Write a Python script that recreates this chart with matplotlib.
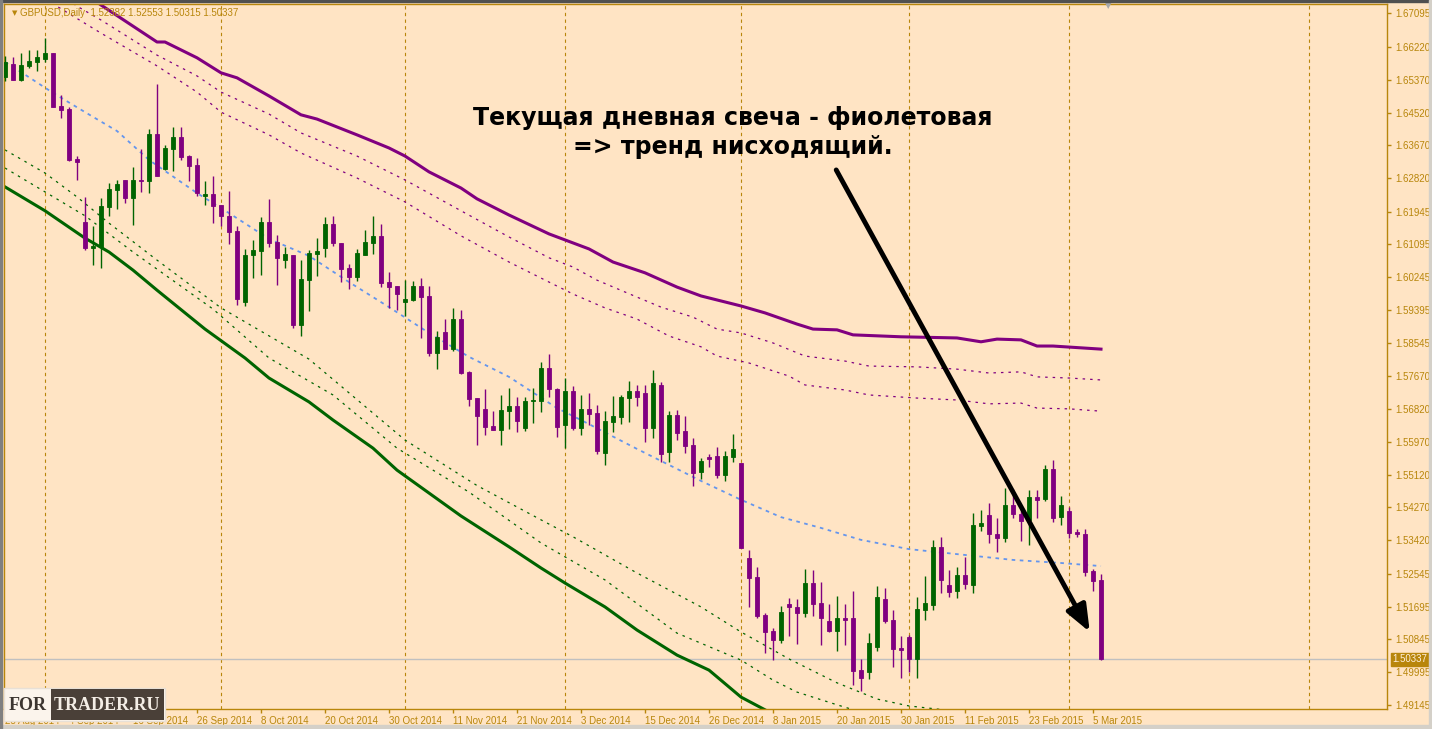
import matplotlib
matplotlib.use("Agg")
import matplotlib.pyplot as plt
from matplotlib.patches import Rectangle

BG = '#FFE4C4'
FG = '#B8860B'
BULL = '#006400'
BEAR = '#800080'
MA_COLOR = '#6495ED'

# daily candles, GBPUSD, 25 Aug 2014 .. 6 Mar 2015 (bar index 0..137)
opens = [1.6545, 1.6578, 1.6536, 1.6574, 1.6584, 1.6591, 1.6607, 1.6469, 1.6462, 1.6331,
         1.6168, 1.6101, 1.6104, 1.6208, 1.6252, 1.6277, 1.6231, 1.6277, 1.6273, 1.6396,
         1.6305, 1.6358, 1.6389, 1.6339, 1.6316, 1.6235, 1.6241, 1.6212, 1.6184, 1.6145,
         1.5959, 1.6081, 1.6093, 1.6168, 1.6116, 1.6070, 1.6082, 1.5901, 1.6018, 1.6086,
         1.6101, 1.6163, 1.6113, 1.6048, 1.6026, 1.6083, 1.6114, 1.6132, 1.6012, 1.6001,
         1.5959, 1.5966, 1.6002, 1.5976, 1.5829, 1.5882, 1.5839, 1.5916, 1.5778, 1.5711,
         1.5683, 1.5639, 1.5629, 1.5678, 1.5690, 1.5634, 1.5704, 1.5704, 1.5789, 1.5735,
         1.5642, 1.5729, 1.5634, 1.5683, 1.5672, 1.5569, 1.5650, 1.5663, 1.5712, 1.5729,
         1.5724, 1.5634, 1.5745, 1.5572, 1.5667, 1.5626, 1.5589, 1.5520, 1.5558, 1.5561,
         1.5512, 1.5559, 1.5543, 1.5296, 1.5247, 1.5148, 1.5107, 1.5084, 1.5177, 1.5169,
         1.5154, 1.5231, 1.5179, 1.5133, 1.5107, 1.5140, 1.5140, 1.5005, 1.5001, 1.5066,
         1.5190, 1.5135, 1.5063, 1.5091, 1.5034, 1.5162, 1.5174, 1.5325, 1.5226, 1.5211,
         1.5252, 1.5227, 1.5380, 1.5408, 1.5358, 1.5349, 1.5434, 1.5410, 1.5395, 1.5454,
         1.5449, 1.5527, 1.5403, 1.5418, 1.5364, 1.5358, 1.5262, 1.52382]
highs = [1.6599, 1.6595, 1.6606, 1.6614, 1.6614, 1.6645, 1.6607, 1.6498, 1.6466, 1.6339,
         1.6234, 1.6158, 1.6229, 1.6268, 1.6277, 1.6277, 1.6311, 1.6358, 1.6409, 1.6526,
         1.6368, 1.6414, 1.6414, 1.6342, 1.6334, 1.6274, 1.6287, 1.6212, 1.6249, 1.6157,
         1.6098, 1.6121, 1.6180, 1.6228, 1.6134, 1.6102, 1.6082, 1.6069, 1.6095, 1.6126,
         1.6180, 1.6184, 1.6113, 1.6059, 1.6099, 1.6146, 1.6184, 1.6163, 1.6038, 1.6001,
         1.6017, 1.6016, 1.6022, 1.6002, 1.5885, 1.5917, 1.5946, 1.5940, 1.5781, 1.5711,
         1.5735, 1.5678, 1.5720, 1.5737, 1.5715, 1.5715, 1.5737, 1.5805, 1.5825, 1.5736,
         1.5763, 1.5742, 1.5719, 1.5725, 1.5692, 1.5677, 1.5716, 1.5719, 1.5755, 1.5745,
         1.5745, 1.5784, 1.5753, 1.5677, 1.5680, 1.5664, 1.5607, 1.5556, 1.5566, 1.5584,
         1.5574, 1.5618, 1.5543, 1.5317, 1.5273, 1.5153, 1.5114, 1.5171, 1.5193, 1.5190,
         1.5267, 1.5265, 1.5234, 1.5177, 1.5198, 1.5177, 1.5210, 1.5034, 1.5102, 1.5222,
         1.5219, 1.5161, 1.5094, 1.5096, 1.5195, 1.5249, 1.5343, 1.5351, 1.5265, 1.5273,
         1.5299, 1.5413, 1.5421, 1.5439, 1.5400, 1.5478, 1.5475, 1.5434, 1.5472, 1.5472,
         1.5537, 1.5550, 1.5457, 1.5428, 1.5371, 1.5371, 1.5267, 1.52553]
lows = [1.6535, 1.6537, 1.6535, 1.6567, 1.6561, 1.6584, 1.6467, 1.6439, 1.6327, 1.6278,
        1.6095, 1.6056, 1.6049, 1.6184, 1.6202, 1.6217, 1.6161, 1.6246, 1.6243, 1.6286,
        1.6302, 1.6301, 1.6328, 1.6275, 1.6236, 1.6213, 1.6164, 1.6158, 1.6112, 1.5952,
        1.5951, 1.6023, 1.6031, 1.6104, 1.6004, 1.6049, 1.5894, 1.5873, 1.5938, 1.6029,
        1.6078, 1.6106, 1.6011, 1.5993, 1.6016, 1.6081, 1.6086, 1.6000, 1.5946, 1.5940,
        1.5924, 1.5964, 1.5868, 1.5821, 1.5787, 1.5839, 1.5832, 1.5774, 1.5691, 1.5589,
        1.5616, 1.5628, 1.5589, 1.5632, 1.5624, 1.5626, 1.5647, 1.5676, 1.5715, 1.5611,
        1.5581, 1.5628, 1.5615, 1.5641, 1.5567, 1.5538, 1.5624, 1.5644, 1.5650, 1.5691,
        1.5598, 1.5608, 1.5546, 1.5546, 1.5603, 1.5569, 1.5484, 1.5502, 1.5533, 1.5504,
        1.5497, 1.5546, 1.5323, 1.5170, 1.5139, 1.5050, 1.5030, 1.5076, 1.5094, 1.5074,
        1.5142, 1.5146, 1.5070, 1.5104, 1.5055, 1.5070, 1.4966, 1.4951, 1.4982, 1.5055,
        1.5128, 1.5014, 1.4985, 1.5000, 1.4985, 1.5135, 1.5161, 1.5206, 1.5195, 1.5193,
        1.5216, 1.5206, 1.5366, 1.5336, 1.5312, 1.5338, 1.5400, 1.5341, 1.5330, 1.5400,
        1.5444, 1.5390, 1.5382, 1.5349, 1.5351, 1.5248, 1.5211, 1.50315]
closes = [1.6582, 1.6537, 1.6575, 1.6586, 1.6596, 1.6607, 1.6467, 1.6459, 1.6330, 1.6324,
          1.6101, 1.6106, 1.6209, 1.6254, 1.6267, 1.6231, 1.6277, 1.6273, 1.6396, 1.6286,
          1.6360, 1.6389, 1.6337, 1.6314, 1.6244, 1.6241, 1.6210, 1.6184, 1.6143, 1.5969,
          1.6082, 1.6095, 1.6168, 1.6114, 1.6075, 1.6085, 1.5901, 1.6020, 1.6088, 1.6093,
          1.6163, 1.6113, 1.6046, 1.6026, 1.6088, 1.6116, 1.6132, 1.6010, 1.6000, 1.5982,
          1.5968, 1.6002, 1.5974, 1.5829, 1.5869, 1.5839, 1.5916, 1.5777, 1.5709, 1.5665,
          1.5637, 1.5629, 1.5680, 1.5690, 1.5652, 1.5704, 1.5706, 1.5789, 1.5734, 1.5637,
          1.5729, 1.5634, 1.5683, 1.5670, 1.5574, 1.5651, 1.5664, 1.5714, 1.5729, 1.5715,
          1.5634, 1.5750, 1.5567, 1.5667, 1.5621, 1.5587, 1.5517, 1.5548, 1.5554, 1.5512,
          1.5561, 1.5579, 1.5323, 1.5245, 1.5146, 1.5105, 1.5084, 1.5156, 1.5168, 1.5154,
          1.5231, 1.5177, 1.5141, 1.5107, 1.5140, 1.5136, 1.5004, 1.4985, 1.5076, 1.5195,
          1.5133, 1.5061, 1.5058, 1.5034, 1.5164, 1.5179, 1.5325, 1.5239, 1.5209, 1.5252,
          1.5229, 1.5382, 1.5387, 1.5359, 1.5348, 1.5434, 1.5411, 1.5392, 1.5454, 1.5447,
          1.5527, 1.5401, 1.5434, 1.5362, 1.5357, 1.5260, 1.5237, 1.50337]

# indicator lines, read at a few bars
upper_band_idx = [5, 12, 19, 20, 24, 27, 29, 33, 37, 39, 44, 48, 50, 53, 57, 59, 63, 68, 73, 76,
                  80, 84, 87, 92, 95, 99, 101, 104, 106, 112, 119, 122, 124, 127, 129, 131, 137]
upper_band = [1.6835, 1.6731, 1.6635, 1.6635, 1.6594, 1.6555, 1.6542, 1.6495, 1.6446, 1.6435,
              1.6394, 1.6360, 1.6339, 1.6298, 1.6256, 1.6228, 1.6186, 1.6137, 1.6098, 1.6064,
              1.6036, 1.5999, 1.5976, 1.5950, 1.5932, 1.5903, 1.5890, 1.5888, 1.5875, 1.5870,
              1.5867, 1.5857, 1.5864, 1.5862, 1.5846, 1.5846, 1.5838]
upper_dash1_idx = [5, 9, 12, 19, 24, 27, 33, 37, 44, 50, 57, 63, 68, 71, 74, 79, 82, 86, 89, 92,
                   96, 100, 105, 108, 114, 119, 123, 127, 129, 133, 137]
upper_dash1 = [1.6790, 1.6728, 1.6692, 1.6601, 1.6547, 1.6505, 1.6448, 1.6399, 1.6339, 1.6277,
               1.6197, 1.6129, 1.6075, 1.6051, 1.6017, 1.5973, 1.5947, 1.5921, 1.5890, 1.5880,
               1.5854, 1.5820, 1.5807, 1.5794, 1.5792, 1.5786, 1.5776, 1.5779, 1.5766, 1.5763,
               1.5758]
upper_dash2_idx = [3, 6, 12, 19, 24, 27, 33, 37, 44, 50, 57, 63, 68, 71, 75, 79, 83, 87, 89, 93,
                   98, 100, 105, 108, 114, 119, 123, 127, 129, 133, 137]
upper_dash2 = [1.6775, 1.6734, 1.6658, 1.6573, 1.6505, 1.6453, 1.6394, 1.6347, 1.6282, 1.6220,
               1.6132, 1.6064, 1.6012, 1.5981, 1.5945, 1.5916, 1.5872, 1.5844, 1.5820, 1.5802,
               1.5768, 1.5745, 1.5732, 1.5719, 1.5711, 1.5706, 1.5696, 1.5698, 1.5685, 1.5683,
               1.5677]
ma_idx = [0, 2, 6, 10, 14, 18, 24, 28, 33, 38, 43, 48, 53, 58, 63, 69, 72, 79, 87, 92,
          97, 102, 107, 113, 119, 126, 132, 137]
ma = [1.6583, 1.6557, 1.6503, 1.6453, 1.6404, 1.6329, 1.6243, 1.6191, 1.6124, 1.6080,
      1.6012, 1.5947, 1.5880, 1.5818, 1.5766, 1.5685, 1.5654, 1.5579, 1.5496, 1.5447,
      1.5402, 1.5374, 1.5343, 1.5319, 1.5306, 1.5291, 1.5283, 1.5275]
lower_dash1_idx = [0, 5, 9, 13, 19, 27, 38, 50, 59, 67, 71, 79, 87, 92, 98, 104, 109, 113, 120]
lower_dash1 = [1.6355, 1.6295, 1.6233, 1.6165, 1.6069, 1.5945, 1.5812, 1.5602, 1.5484, 1.5395,
               1.5351, 1.5257, 1.5169, 1.5104, 1.5034, 1.4972, 1.4930, 1.4912, 1.4896]
lower_dash2_idx = [0, 5, 10, 16, 26, 33, 41, 49, 58, 67, 75, 84, 92, 96, 99, 104, 107]
lower_dash2 = [1.6308, 1.6246, 1.6184, 1.6090, 1.5942, 1.5815, 1.5719, 1.5581, 1.5467, 1.5335,
               1.5239, 1.5101, 1.5031, 1.4979, 1.4948, 1.4915, 1.4896]
lower_band_idx = [0, 5, 10, 13, 16, 19, 25, 30, 33, 38, 41, 46, 49, 57, 63, 67, 70, 75, 79, 84,
                  88, 92, 96]
lower_band = [1.6259, 1.6197, 1.6126, 1.6090, 1.6043, 1.5991, 1.5890, 1.5815, 1.5763, 1.5701,
              1.5654, 1.5581, 1.5524, 1.5405, 1.5325, 1.5270, 1.5231, 1.5169, 1.5109, 1.5044,
              1.5005, 1.4935, 1.4891]

date_idx = [0, 8, 16, 24, 32, 40, 48, 56, 64, 72, 80, 88, 96, 104, 112, 120, 128, 136]
date_labels = ['25 Aug 2014', '4 Sep 2014', '16 Sep 2014', '26 Sep 2014', '8 Oct 2014',
               '20 Oct 2014', '30 Oct 2014', '11 Nov 2014', '21 Nov 2014', '3 Dec 2014',
               '15 Dec 2014', '26 Dec 2014', '8 Jan 2015', '20 Jan 2015', '30 Jan 2015',
               '11 Feb 2015', '23 Feb 2015', '5 Mar 2015']
month_idx = [5, 27, 50, 70, 92, 113, 133, 163]
price_ticks = [1.67095, 1.66220, 1.65370, 1.64520, 1.63670, 1.62820, 1.61945, 1.61095,
               1.60245, 1.59395, 1.58545, 1.57670, 1.56820, 1.55970, 1.55120, 1.54270,
               1.53420, 1.52545, 1.51695, 1.50845, 1.49995, 1.49145]
last_price = 1.50337
header = 'GBPUSD,Daily  1.52382 1.52553 1.50315 1.50337'
note = 'Текущая дневная свеча - фиолетовая\n=> тренд нисходящий.'
note_pos = (91.0, 1.6400)
arrow_from = (103.9, 1.6303)
arrow_to = (135.6, 1.5104)

W, H = 1432, 729
fig = plt.figure(figsize=(W / 100, H / 100), dpi=100, facecolor=BG)
ax = fig.add_axes([4 / W, 1 - 709 / H, (1387 - 4) / W, (709 - 4) / H], facecolor=BG)
ax.set_xlim(-0.125, 172.75)
ax.set_ylim(1.49041, 1.67336)

for m in month_idx:
    ax.axvline(m, color=FG, lw=0.8, ls=(0, (3, 3)), zorder=1)
ax.axhline(last_price, color='#C0C0C0', lw=1, zorder=1)

# indicator lines
ax.plot(upper_band_idx, upper_band, color=BEAR, lw=2.2, zorder=2)
ax.plot(upper_dash1_idx, upper_dash1, color=BEAR, lw=0.9, ls=(0, (2, 4)), zorder=2)
ax.plot(upper_dash2_idx, upper_dash2, color=BEAR, lw=0.9, ls=(0, (2, 4)), zorder=2)
ax.plot(ma_idx, ma, color=MA_COLOR, lw=1.3, ls=(0, (2, 2.5)), zorder=2)
ax.plot(lower_dash1_idx, lower_dash1, color=BULL, lw=0.9, ls=(0, (2, 4)), zorder=2)
ax.plot(lower_dash2_idx, lower_dash2, color=BULL, lw=0.9, ls=(0, (2, 4)), zorder=2)
ax.plot(lower_band_idx, lower_band, color=BULL, lw=2.2, zorder=2)

# candles
idx = list(range(len(opens)))
cols = [BULL if c >= o else BEAR for o, c in zip(opens, closes)]
ax.vlines(idx, lows, highs, colors=cols, lw=1.0, zorder=3)
ax.bar(idx, [abs(c - o) for o, c in zip(opens, closes)],
       bottom=[min(o, c) for o, c in zip(opens, closes)],
       width=0.62, color=cols, edgecolor=cols, linewidth=0.6, zorder=4)

# axes styling
for s in ax.spines.values():
    s.set_color(FG)
    s.set_linewidth(1)
ax.yaxis.tick_right()
ax.set_yticks(price_ticks)
ax.set_yticklabels(['%.5f' % p for p in price_ticks])
ax.set_xticks(date_idx)
ax.set_xticklabels(date_labels, ha='left')
ax.tick_params(axis='both', colors=FG, labelcolor=FG, labelsize=7, length=3, width=1,
               direction='out')
ax.tick_params(axis='x', pad=2)
ax.tick_params(axis='y', pad=3)
for t in ax.get_xticklabels() + ax.get_yticklabels():
    t.set_family('Liberation Sans')

ax.text(1.004, last_price, '%.5f' % last_price, transform=ax.get_yaxis_transform(),
        ha='left', va='center', fontsize=7, family='Liberation Sans', color='#FFF0DC',
        bbox=dict(boxstyle='square,pad=0.15', fc=FG, ec=FG))

# annotation
ax.text(note_pos[0], note_pos[1], note, ha='center', va='center', fontsize=17,
        fontweight='bold', color='black', linespacing=1.22, zorder=6)
ax.annotate('', xy=arrow_to, xytext=arrow_from,
            arrowprops=dict(arrowstyle='-|>,head_length=0.8,head_width=0.32',
                            color='black', lw=3.5, mutation_scale=20, shrinkA=0, shrinkB=0),
            zorder=6)

# header
fig.text(12 / W, 1 - 13 / H, '▼', fontsize=5, color=FG, va='center')
fig.text(20 / W, 1 - 13 / H, header, fontsize=7, color=FG, va='center',
         family='Liberation Sans')
fig.text(1105 / W, 1 - 6 / H, '▼', fontsize=6, color='#A8A8A8', va='center')

# window frame bits
fig.patches.append(Rectangle((0, 1 - 2 / H), 1, 2 / H, transform=fig.transFigure,
                             color='#505050', zorder=10))
fig.patches.append(Rectangle((0, 0), 1, 4 / H, transform=fig.transFigure,
                             color='#D4D0C8', zorder=10))
fig.patches.append(Rectangle((0, 0), 2 / W, 1, transform=fig.transFigure,
                             color='#808080', zorder=10))
fig.patches.append(Rectangle((1 - 3 / W, 0), 3 / W, 1, transform=fig.transFigure,
                             color='#D4D0C8', zorder=10))

# logo
fig.patches.append(Rectangle((4 / W, 1 - 721 / H), 161 / W, 33 / H, transform=fig.transFigure,
                             fc='#FBF4EC', ec='#E8E0D6', lw=1, zorder=11))
fig.patches.append(Rectangle((51 / W, 1 - 720 / H), 113 / W, 31 / H, transform=fig.transFigure,
                             fc='#4A4038', ec='none', zorder=12))
fig.text(28 / W, 1 - 705 / H, 'FOR', fontsize=13, fontweight='bold', family='Liberation Serif',
         color='#3C3530', ha='center', va='center', zorder=13)
fig.text(107 / W, 1 - 705 / H, 'TRADER.RU', fontsize=13, fontweight='bold',
         family='Liberation Serif', color='#F4EEE6', ha='center', va='center', zorder=13)

fig.savefig('out.png', dpi=100, facecolor=BG)
